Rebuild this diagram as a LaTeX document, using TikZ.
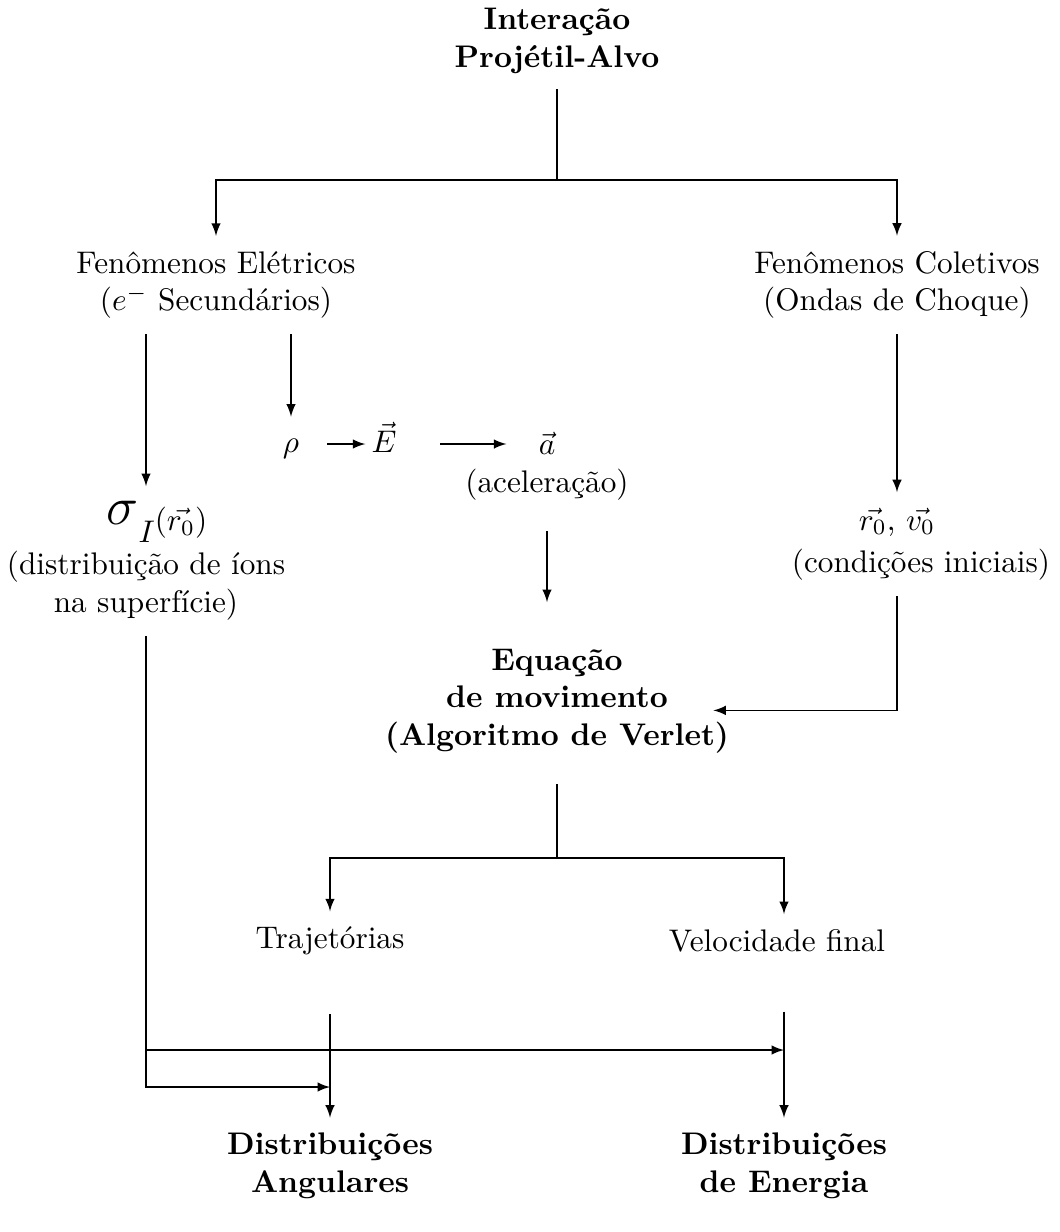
\documentclass[tikz,border=0pt]{standalone}
\usepackage{amsmath}
\usetikzlibrary{arrows,calc}

\begin{document}
\begin{tikzpicture}[x=0.32pt,y=-0.32pt,
    txt/.style={align=center, inner sep=0pt, outer sep=5pt},
    bld/.style={txt, font=\bfseries},
    mth/.style={inner sep=0pt, outer sep=5pt, text height=1.5ex, text depth=.25ex}]
        \useasboundingbox (0,0) rectangle (1060,1232);
        % top
        \node [bld] (interacao) at (557,41) {Interação\\Projétil-Alvo};
        \coordinate (split1) at (557,180);
        \node [txt] (eletricos) at (216,285) {Fenômenos Elétricos\\($e^-$ Secundários)};
        \node [txt] (coletivos) at (897,285) {Fenômenos Coletivos\\(Ondas de Choque)};
        % left branch
        \node [txt] (sigma) at (146,561) {\hspace*{7pt}{\LARGE$\sigma$}\raisebox{-5.5pt}{$I$}\raisebox{-1.8pt}{$(\vec{r_0})$}\\[2pt](distribuição de íons\\na superfície)};
        \node [mth] (rho) at (291,444) {$\rho$};
        \node [mth] (campo) at (384,444) {$\vec{E}$};
        \node [txt] (acel) at (547,466) {$\vec{a}$\\(aceleração)};
        % right branch
        \node [txt] (rv) at (897,522) {$\vec{r_0}$, $\vec{v_0}$};
        \node [txt] (condicoes) at (921,565) {(condições iniciais)};
        % middle
        \node [bld] (equacao) at (557,701) {Equação\\de movimento\\(Algoritmo de Verlet)};
        \coordinate (split2) at (557,858);
        \node [txt] (trajetorias) at (330,941) {Trajetórias};
        \node [txt] (velocidade) at (777,941) {Velocidade final};
        \node [bld] (angulares) at (330,1166) {Distribuições\\Angulares};
        \node [bld] (energia) at (784,1166) {Distribuições\\de Energia};
        \coordinate (lowA) at (0,1050);
        \coordinate (lowB) at (0,1087);

        \draw (interacao) -- (split1);
        \draw [-latex] (split1) -| (eletricos);
        \draw [-latex] (split1) -| (coletivos);
        \draw [-latex] (eletricos.south -| sigma.north) -- (sigma);
        \draw [-latex] (eletricos.south -| rho.north) -- (rho);
        \draw [-latex, shorten <=4pt, shorten >=-3pt] (rho) -- (campo);
        \draw [-latex, shorten <=9pt, shorten >=13pt] (campo) -- (campo -| acel);
        \draw [-latex, shorten <=5pt, shorten >=10pt] (acel) -- (acel |- equacao.north);
        \draw [-latex] (coletivos) -- (rv);
        \draw [-latex] (condicoes.south -| rv) |- ([xshift=-10pt,yshift=-3pt]equacao.east);
        \draw [shorten <=5pt] (equacao) -- (split2);
        \draw [-latex] (split2) -| (trajetorias);
        \draw [-latex] (split2) -| (velocidade.north -| energia);
        \draw [-latex, shorten <=14pt] (trajetorias) -- (angulares);
        \draw [-latex, shorten <=14pt] (velocidade.south -| energia) -- (energia);
        \draw [-latex] (sigma) |- (lowB -| angulares);
        \draw [-latex] (sigma.south |- lowA) -- (lowA -| energia);
\end{tikzpicture}
\end{document}
